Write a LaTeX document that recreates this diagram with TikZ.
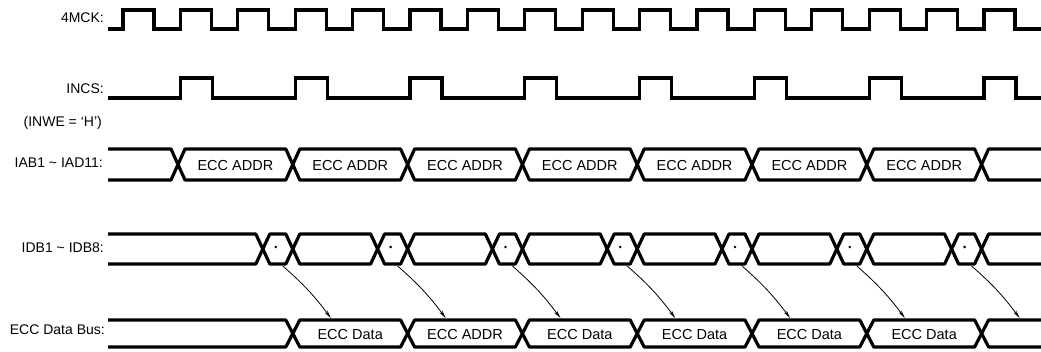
\documentclass[tikz,border=0pt]{standalone}
\usepackage{fontspec}
\setmainfont{Liberation Sans}
\usetikzlibrary{arrows.meta}
\tikzset{
  wave/.style={line width=3.2pt, line join=miter},
  bus/.style={line width=3.2pt, line join=round},
  lbl/.style={anchor=east, inner sep=0pt, font=\fontsize{14}{16}\selectfont},
  txt/.style={inner sep=0pt, font=\fontsize{14.5}{16}\selectfont},
  cause/.style={line width=0.8pt, -{Stealth[length=8pt,width=3.5pt]}}
}
\begin{document}
\begin{tikzpicture}[x=1pt,y=-1pt]
\useasboundingbox (0,0) rectangle (1041,352);
\node[lbl] (lclk) at (104,18) {4MCK:};
\node[lbl] (lcs) at (104,89) {INCS:};
\node[lbl] (lwe) at (102,123) {(INWE = `H')};
\node[lbl] (liab) at (103,163) {IAB1 \textasciitilde{} IAD11:};
\node[lbl] (lidb) at (104,248) {IDB1 \textasciitilde{} IDB8:};
\node[lbl] (lecc) at (105,330) {ECC Data Bus:};
\draw[wave] (108,29) \foreach \i in {0,...,15}{
    -- ({123+57.4*\i},29) -- ({123+57.4*\i},10)
    -- ({154+57.4*\i},10) -- ({154+57.4*\i},29)} -- (1041,29);
\draw[wave] (108,98) \foreach \k in {0,...,7}{
    -- ({180.4+114.8*\k},98) -- ({180.4+114.8*\k},78)
    -- ({212.4+114.8*\k},78) -- ({212.4+114.8*\k},98)} -- (1041,98);
\draw[bus] (108,149) -- (171,149) -- (178,164.5) -- (171,180) -- (108,180);
\foreach \k in {0,...,6}{
  \pgfmathsetmacro{\xa}{178+114.8*\k}
  \pgfmathsetmacro{\xb}{\xa+114.8}
  \draw[bus] (\xa,164.5) -- (\xa+7,149) -- (\xb-7,149) -- (\xb,164.5)
    -- (\xb-7,180) -- (\xa+7,180) -- cycle;
  \node[txt] (iab\k) at ({(\xa+\xb)/2},166) {ECC ADDR};}
\draw[bus] (1041,149) -- (988.6,149) -- (981.6,164.5) -- (988.6,180) -- (1041,180);
\draw[bus] (108,234) -- (255.8,234) -- (262.8,249) -- (255.8,264) -- (108,264);
\foreach \k in {1,...,7}{
  \pgfmathsetmacro{\xb}{178+114.8*\k}
  \pgfmathsetmacro{\xa}{\xb-30}
  \draw[bus] (\xa,249) -- (\xa+7,234) -- (\xb-7,234) -- (\xb,249)
    -- (\xb-7,264) -- (\xa+7,264) -- cycle;
  \fill (\xb-17,247) circle (1.4);
  \coordinate (s\k) at (\xb-10,266);}
\foreach \k in {1,...,6}{
  \pgfmathsetmacro{\xa}{178+114.8*\k}
  \pgfmathsetmacro{\xb}{\xa+84.8}
  \draw[bus] (\xa,249) -- (\xa+7,234) -- (\xb-7,234) -- (\xb,249)
    -- (\xb-7,264) -- (\xa+7,264) -- cycle;}
\draw[bus] (1041,234) -- (988.6,234) -- (981.6,249) -- (988.6,264) -- (1041,264);
\draw[bus] (108,320) -- (285.8,320) -- (292.8,333.5) -- (285.8,347) -- (108,347);
\foreach \k/\t in {1/ECC Data,2/ECC ADDR,3/ECC Data,4/ECC Data,5/ECC Data,6/ECC Data}{
  \pgfmathsetmacro{\xa}{178+114.8*\k}
  \pgfmathsetmacro{\xb}{\xa+114.8}
  \draw[bus] (\xa,333.5) -- (\xa+7,320) -- (\xb-7,320) -- (\xb,333.5)
    -- (\xb-7,347) -- (\xa+7,347) -- cycle;
  \node[txt] (ecc\k) at ({(\xa+\xb)/2},335) {\t};}
\draw[bus] (1041,320) -- (988.6,320) -- (981.6,333.5) -- (988.6,347) -- (1041,347);
\foreach \k in {1,...,7}{
  \coordinate (e\k) at ({178+114.8*\k+38},318);
  \draw[cause] (s\k) to[bend left=6] (e\k);}
\end{tikzpicture}
\end{document}
